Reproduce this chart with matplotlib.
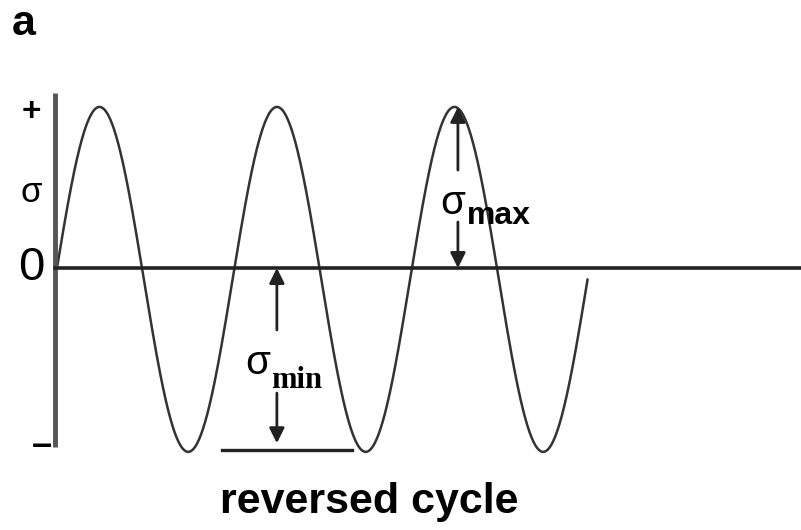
import numpy as np
import matplotlib
matplotlib.use("Agg")
import matplotlib.pyplot as plt

# Fully reversed stress cycle (schematic)
n_cycles = 3                 # number of load cycles drawn
amplitude = 1.0              # stress amplitude (normalised)
baseline = -0.066            # small drawing offset of the wave centre
axis_labels = ["+", "σ", "0", "–"]
axis_label_levels = [0.90, 0.44, 0.0, -1.03]
caption = "reversed cycle"
panel = "a"

INK = "#222222"
plt.rcParams["font.family"] = ["Liberation Sans", "DejaVu Sans"]

fig = plt.figure(figsize=(8.01, 5.30), dpi=100)
ax = fig.add_axes([0, 0, 1, 1])
ax.set_xlim(-0.321, 4.192)
ax.set_ylim(-1.519, 1.554)
ax.axis("off")

# wave: phase starts where the curve meets the zero line
phase0 = np.arcsin(-baseline / amplitude)
t = np.linspace(0, n_cycles - phase0 / (2 * np.pi), 1200)
stress = amplitude * np.sin(2 * np.pi * t + phase0) + baseline
ax.plot(t, stress, color="#333333", lw=1.8, solid_capstyle="round")

# axes
ax.plot([-0.0113, -0.0113], [1.014, -1.038], color="#555555", lw=3.5,
        solid_capstyle="butt")
ax.plot([-0.0113, 4.3], [0, 0], color=INK, lw=2.6)

# axis labels
sizes = [24, 25, 34, 26]
for lab, lev, fs in zip(axis_labels, axis_label_levels, sizes):
    ax.text(-0.145 if lab != "–" else -0.085, lev, lab, fontsize=fs,
            fontweight="bold" if lab in "+–" else "normal",
            ha="center", va="center", color="black")

ax.text(-0.186, 1.414, panel, fontsize=31, fontweight="bold",
        ha="center", va="center", color="black")

peak = amplitude + baseline
trough = -amplitude + baseline

# sigma max arrows
arrow_kw = dict(arrowstyle="-|>,head_length=0.9,head_width=0.45",
                color=INK, lw=2.0, shrinkA=0, shrinkB=0)
xm = 2.259
ax.annotate("", xy=(xm, peak), xytext=(xm, 0.568), arrowprops=arrow_kw)
ax.annotate("", xy=(xm, 0.0), xytext=(xm, 0.267), arrowprops=arrow_kw)
ax.text(2.231, 0.375, "σ", fontsize=29, ha="center", va="center",
        color="black")
ax.text(2.312, 0.300, "max", fontsize=23, fontweight="bold",
        ha="left", va="center", color="black")

# sigma min arrows
xn = 1.239
ax.annotate("", xy=(xn, 0.0), xytext=(xn, -0.359), arrowprops=arrow_kw)
ax.annotate("", xy=(xn, trough + 0.05), xytext=(xn, -0.725),
            arrowprops=arrow_kw)
ax.plot([0.930, 1.662], [trough + 0.01, trough + 0.01], color=INK, lw=2.4)
ax.text(1.130, -0.552, "σ", fontsize=29, ha="center", va="center",
        color="black")
ax.text(1.208, -0.650, "min", fontsize=22, fontweight="bold",
        family=["Liberation Serif", "DejaVu Serif"],
        ha="left", va="center", color="black")

ax.text(1.758, -1.357, caption, fontsize=31, fontweight="bold",
        ha="center", va="center", color="black")

fig.savefig("out.png", dpi=100)
